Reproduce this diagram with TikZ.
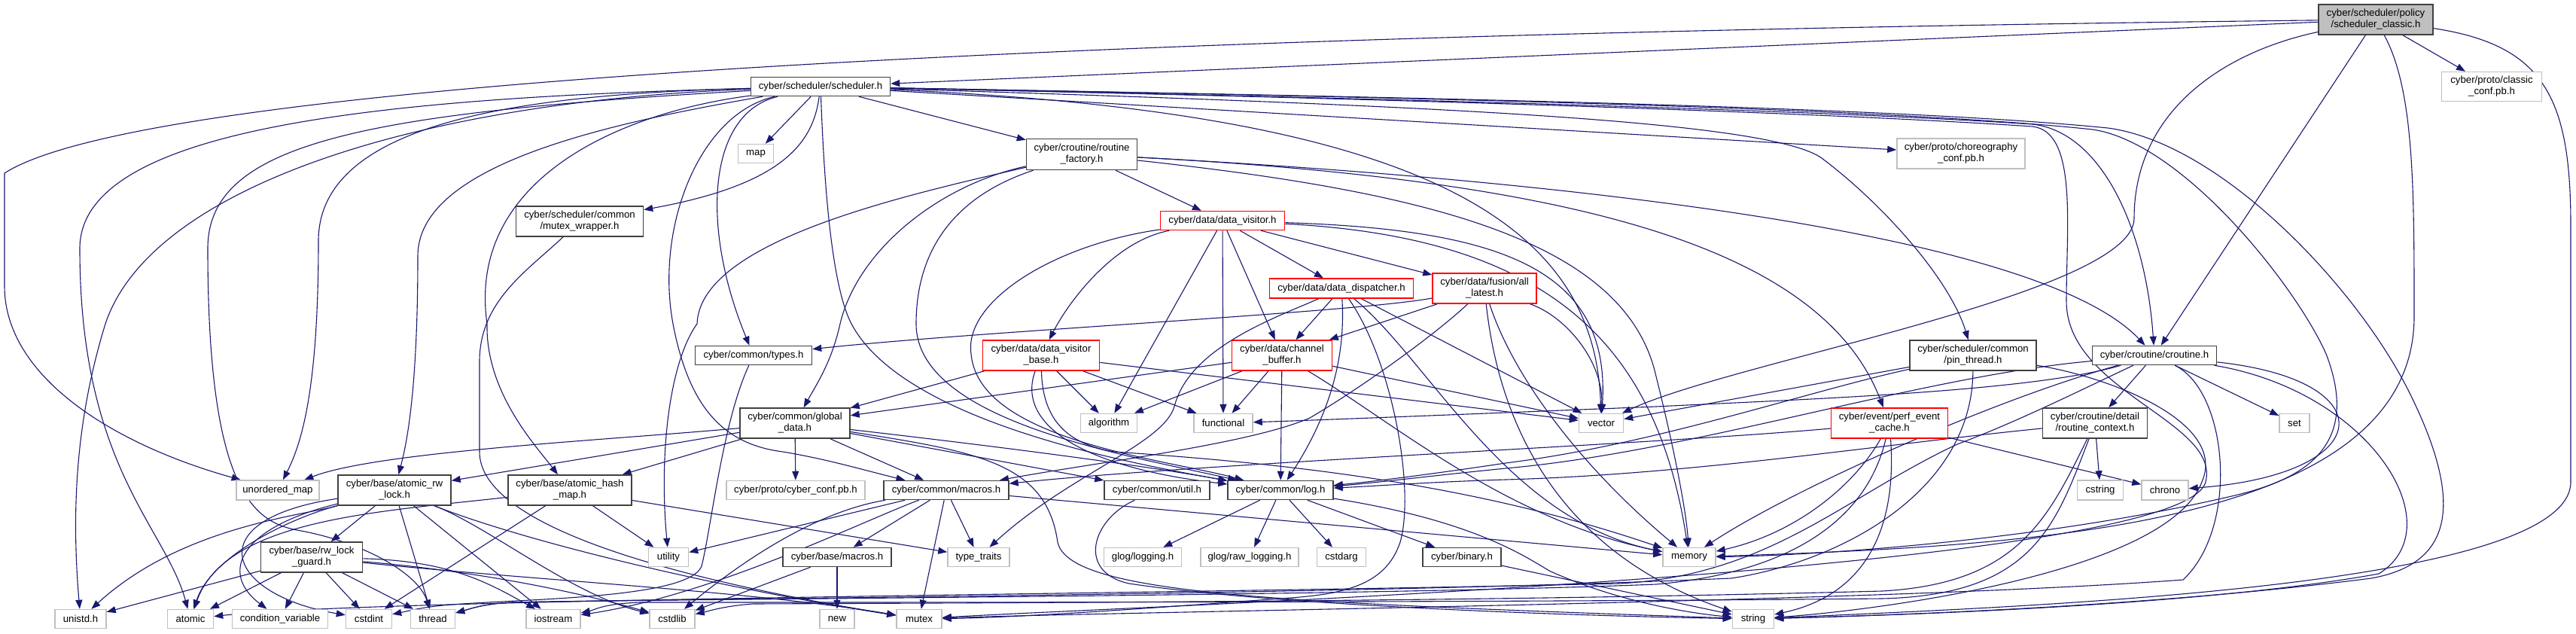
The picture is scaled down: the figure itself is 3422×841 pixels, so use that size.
\documentclass[tikz,border=0pt]{standalone}
\usepackage{fontspec}
\setmainfont{Liberation Sans}
\usetikzlibrary{arrows.meta}
\definecolor{edgec}{HTML}{191970}
\definecolor{darkb}{HTML}{404040}
\definecolor{lightb}{HTML}{BFBFBF}
\definecolor{redb}{HTML}{FF0000}
\pgfdeclarelayer{edges}
\pgfsetlayers{edges,main}
\begin{document}
\begin{tikzpicture}[x=1pt,y=-1pt,
  docn/.style={draw=darkb, fill=white, line width=1.5pt, inner sep=0pt, align=center, font=\fontsize{13.2}{15}\selectfont},
  extn/.style={docn, draw=lightb},
  trunc/.style={docn, draw=redb},
  rootn/.style={docn, fill=lightb},
  edg/.style={draw=edgec, line width=1.1pt, -{Triangle[length=12pt,width=9pt]}},
  sz/.style 2 args={minimum width=#1pt, minimum height=#2pt}]
\useasboundingbox (0,0) rectangle (3422,841);
% ---------------- nodes
\node[rootn, sz={152}{40}] (root) at (3156,26) {cyber/scheduler/policy\\/scheduler\_classic.h};
\node[extn, sz={133}{39}] (cconf) at (3310,115) {cyber/proto/classic\\\_conf.pb.h};
\node[docn, sz={185}{25}] (sched) at (1090,115) {cyber/scheduler/scheduler.h};
\node[extn, sz={47}{25}] (map) at (1004,204) {map};
\node[docn, sz={169}{40}] (mwrap) at (770,294) {cyber/scheduler/common\\/mutex\_wrapper.h};
\node[docn, sz={147}{41}] (rfac) at (1437,205) {cyber/croutine/routine\\\_factory.h};
\node[trunc, sz={165}{25}] (dvis) at (1624,293) {cyber/data/data\_visitor.h};
\node[trunc, sz={191}{26}] (ddisp) at (1782,383) {cyber/data/data\_dispatcher.h};
\node[trunc, sz={138}{40}] (alat) at (1972,383) {cyber/data/fusion/all\\\_latest.h};
\node[extn, sz={170}{40}] (choreo) at (2605,204) {cyber/proto/choreography\\\_conf.pb.h};
\node[docn, sz={155}{25}] (types) at (1001,472) {cyber/common/types.h};
\node[docn, sz={146}{40}] (gdata) at (1056,562) {cyber/common/global\\\_data.h};
\node[trunc, sz={155}{40}] (dvb) at (1383,472) {cyber/data/data\_visitor\\\_base.h};
\node[trunc, sz={133}{40}] (chbuf) at (1703,472) {cyber/data/channel\\\_buffer.h};
\node[extn, sz={75}{25}] (algo) at (1473,562) {algorithm};
\node[extn, sz={78}{25}] (func) at (1625,562) {functional};
\node[extn, sz={59}{25}] (vec) at (2127,562) {vector};
\node[docn, sz={168}{40}] (pin) at (2621,472) {cyber/scheduler/common\\/pin\_thread.h};
\node[docn, sz={165}{25}] (cor) at (2862,472) {cyber/croutine/croutine.h};
\node[extn, sz={40}{25}] (set) at (3048,562) {set};
\node[extn, sz={62}{26}] (chrono) at (2876,651) {chrono};
\node[extn, sz={61}{26}] (cstring) at (2790,651) {cstring};
\node[docn, sz={139}{40}] (rctx) at (2783,562) {cyber/croutine/detail\\/routine\_context.h};
\node[trunc, sz={155}{40}] (perf) at (2510,562) {cyber/event/perf\_event\\\_cache.h};
\node[extn, sz={110}{26}] (umap) at (369,651) {unordered\_map};
\node[docn, sz={150}{40}] (arw) at (524,651) {cyber/base/atomic\_rw\\\_lock.h};
\node[docn, sz={164}{40}] (ahm) at (757,651) {cyber/base/atomic\_hash\\\_map.h};
\node[extn, sz={184}{25}] (cyconf) at (1057,651) {cyber/proto/cyber\_conf.pb.h};
\node[docn, sz={166}{25}] (cmac) at (1257,651) {cyber/common/macros.h};
\node[docn, sz={140}{25}] (util) at (1537,651) {cyber/common/util.h};
\node[docn, sz={140}{25}] (log) at (1701,651) {cyber/common/log.h};
\node[docn, sz={135}{40}] (rwg) at (414,740) {cyber/base/rw\_lock\\\_guard.h};
\node[extn, sz={53}{25}] (utility) at (888,740) {utility};
\node[docn, sz={144}{25}] (bmac) at (1112,740) {cyber/base/macros.h};
\node[extn, sz={82}{25}] (ttraits) at (1300,740) {type\_traits};
\node[extn, sz={103}{25}] (glog) at (1518,740) {glog/logging.h};
\node[extn, sz={130}{25}] (rawlog) at (1660,740) {glog/raw\_logging.h};
\node[extn, sz={65}{25}] (cstdarg) at (1782,740) {cstdarg};
\node[docn, sz={104}{25}] (binary) at (1942,740) {cyber/binary.h};
\node[extn, sz={70}{25}] (memory) at (2244,740) {memory};
\node[extn, sz={68}{25}] (unistd) at (107,822) {unistd.h};
\node[extn, sz={61}{25}] (atomic) at (253,822) {atomic};
\node[extn, sz={127}{25}] (condvar) at (372,822) {condition\_variable};
\node[extn, sz={61}{25}] (cstdint) at (490,822) {cstdint};
\node[extn, sz={59}{25}] (thread) at (575,822) {thread};
\node[extn, sz={72}{25}] (iostream) at (735,822) {iostream};
\node[extn, sz={60}{25}] (cstdlib) at (893,822) {cstdlib};
\node[extn, sz={46}{25}] (cnew) at (1112,822) {new};
\node[extn, sz={60}{25}] (mutex) at (1221,822) {mutex};
\node[extn, sz={55}{25}] (string) at (2329,822) {string};
% ---------------- edges
\begin{pgfonlayer}{edges}
\fill[white] (0,0) rectangle (3422,841);
% root
\draw[edg] (root) -- (sched);
\draw[edg] (root) .. controls (1500,45) and (200,105) .. (6,230) -- (6,380) .. controls (6,500) and (150,590) .. (umap);
\draw[edg] (root) .. controls (2950,70) and (2835,150) .. (2835,290) .. controls (2835,390) and (2300,480) .. (vec);
\draw[edg] (root) -- (cor);
\draw[edg] (root) .. controls (3207,120) and (3207,250) .. (3207,420) .. controls (3207,700) and (2700,725) .. (memory);
\draw[edg] (root) .. controls (3380,60) and (3415,130) .. (3415,300) -- (3415,640) .. controls (3415,780) and (2700,805) .. (string);
\draw[edg] (root) -- (cconf);
% scheduler.h
\draw[edg] (sched) .. controls (700,125) and (423,160) .. (423,320) .. controls (423,520) and (400,590) .. (umap);
\draw[edg] (sched) .. controls (500,130) and (106,170) .. (106,330) .. controls (106,620) and (220,700) .. (atomic);
\draw[edg] (sched) .. controls (550,135) and (200,250) .. (140,430) .. controls (100,560) and (95,680) .. (unistd);
\draw[edg] (sched) .. controls (480,150) and (276,190) .. (276,330) .. controls (276,660) and (340,695) .. (400,705) .. controls (480,720) and (555,760) .. (thread);
\draw[edg] (sched) .. controls (800,165) and (555,220) .. (555,340) .. controls (555,520) and (540,590) .. (arw);
\draw[edg] (sched) .. controls (820,150) and (620,240) .. (647,430) .. controls (645,520) and (710,590) .. (ahm);
\draw[edg] (sched) -- (map);
\draw[edg] (sched) .. controls (1080,190) and (1040,245) .. (mwrap);
\draw[edg] (sched) .. controls (940,150) and (930,300) .. (types);
\draw[edg] (sched) .. controls (930,150) and (870,300) .. (894,430) .. controls (915,540) and (960,590) .. (1040,600) .. controls (1100,610) and (1150,625) .. (cmac);
\draw[edg] (sched) .. controls (1095,250) and (1105,380) .. (1131,430) .. controls (1200,560) and (1500,615) .. (log);
\draw[edg] (sched) -- (rfac);
\draw[edg] (sched) -- (choreo);
\draw[edg] (sched) .. controls (1900,140) and (2350,160) .. (2420,210) .. controls (2500,270) and (2590,370) .. (pin);
\draw[edg] (sched) .. controls (1800,130) and (2400,145) .. (2700,165) .. controls (2790,175) and (2850,300) .. (cor);
\draw[edg] (sched) .. controls (1800,128) and (2500,140) .. (2800,170) .. controls (2950,190) and (3130,380) .. (3200,520) .. controls (3280,680) and (3250,750) .. (3150,768) .. controls (2900,800) and (2600,815) .. (string);
\draw[edg] (sched) .. controls (1800,128) and (2500,142) .. (2780,172) .. controls (2900,190) and (3050,380) .. (3090,470) .. controls (3140,600) and (3050,640) .. (2960,660) .. controls (2700,720) and (2400,738) .. (memory);
\draw[edg] (sched) .. controls (1800,130) and (2400,148) .. (2700,168) .. controls (2760,175) and (2745,300) .. (2745,400) .. controls (2745,520) and (2950,560) .. (2930,640) .. controls (2900,760) and (1500,805) .. (mutex);
\draw[edg] (sched) .. controls (1900,150) and (2120,300) .. (vec);
% routine_factory.h
\draw[edg] (rfac) -- (dvis);
\draw[edg] (rfac) .. controls (1200,260) and (930,320) .. (926,430) .. controls (890,480) and (875,600) .. (utility);
\draw[edg] (rfac) .. controls (1250,245) and (1140,330) .. (1116,430) .. controls (1105,480) and (1085,510) .. (gdata);
\draw[edg] (rfac) .. controls (1270,260) and (1217,330) .. (1217,430) .. controls (1217,560) and (1500,605) .. (log);
\draw[edg] (rfac) .. controls (2000,235) and (2700,300) .. (cor);
\draw[edg] (rfac) .. controls (2100,240) and (2420,330) .. (perf);
\draw[edg] (rfac) .. controls (1900,255) and (2160,320) .. (2200,500) .. controls (2225,600) and (2240,680) .. (memory);
% data_visitor.h
\draw[edg] (dvis) .. controls (1400,325) and (1280,400) .. (1290,470) .. controls (1300,585) and (1550,610) .. (log);
\draw[edg] (dvis) .. controls (1480,320) and (1420,400) .. (dvb);
\draw[edg] (dvis) -- (algo);
\draw[edg] (dvis) -- (func);
\draw[edg] (dvis) -- (chbuf);
\draw[edg] (dvis) -- (ddisp);
\draw[edg] (dvis) -- (alat);
\draw[edg] (dvis) .. controls (2000,305) and (2140,360) .. (vec);
\draw[edg] (dvis) .. controls (2050,315) and (2200,450) .. (memory);
% data_dispatcher.h
\draw[edg] (ddisp) -- (chbuf);
\draw[edg] (ddisp) .. controls (1786,450) and (1780,530) .. (log);
\draw[edg] (ddisp) .. controls (1850,480) and (1880,650) .. (1860,720) .. controls (1840,780) and (1780,790) .. (1700,795) .. controls (1500,810) and (1350,820) .. (mutex);
\draw[edg] (ddisp) .. controls (1900,480) and (2000,690) .. (memory);
\draw[edg] (ddisp) -- (vec);
\draw[edg] (ddisp) .. controls (1700,420) and (1580,460) .. (1560,540) .. controls (1545,590) and (1420,630) .. (ttraits);
% all_latest.h
\draw[edg] (alat) .. controls (1800,415) and (1300,440) .. (types);
\draw[edg] (alat) -- (chbuf);
\draw[edg] (alat) .. controls (1900,450) and (1800,520) .. (1740,555) .. controls (1660,590) and (1450,615) .. (cmac);
\draw[edg] (alat) .. controls (1990,550) and (2060,730) .. (string);
\draw[edg] (alat) .. controls (2010,500) and (2100,620) .. (memory);
\draw[edg] (alat) .. controls (2080,420) and (2130,480) .. (vec);
% channel_buffer.h
\draw[edg] (chbuf) -- (gdata);
\draw[edg] (chbuf) -- (algo);
\draw[edg] (chbuf) -- (func);
\draw[edg] (chbuf) -- (log);
\draw[edg] (chbuf) .. controls (1850,560) and (2000,690) .. (memory);
\draw[edg] (chbuf) -- (vec);
% data_visitor_base.h
\draw[edg] (dvb) -- (gdata);
\draw[edg] (dvb) -- (algo);
\draw[edg] (dvb) -- (func);
\draw[edg] (dvb) -- (vec);
\draw[edg] (dvb) .. controls (1350,560) and (1430,620) .. (log);
\draw[edg] (dvb) .. controls (1385,560) and (1420,590) .. (1480,600) .. controls (1700,615) and (1950,640) .. (memory);
% types.h
\draw[edg] (types) .. controls (960,560) and (945,700) .. (932,752) .. controls (915,795) and (700,795) .. (600,803) .. controls (560,806) and (540,812) .. (cstdint);
% global_data.h
\draw[edg] (gdata) .. controls (800,585) and (500,600) .. (umap);
\draw[edg] (gdata) -- (arw);
\draw[edg] (gdata) -- (ahm);
\draw[edg] (gdata) -- (cyconf);
\draw[edg] (gdata) -- (cmac);
\draw[edg] (gdata) -- (util);
\draw[edg] (gdata) .. controls (1300,590) and (1500,615) .. (log);
\draw[edg] (gdata) .. controls (1300,600) and (1390,615) .. (1405,720) .. controls (1420,790) and (1700,800) .. (string);
% common/macros.h
\draw[edg] (cmac) -- (bmac);
\draw[edg] (cmac) -- (ttraits);
\draw[edg] (cmac) -- (mutex);
\draw[edg] (cmac) -- (utility);
\draw[edg] (cmac) .. controls (1080,680) and (980,750) .. (cstdlib);
\draw[edg] (cmac) .. controls (1150,690) and (950,790) .. (iostream);
\draw[edg] (cmac) -- (memory);
% base/macros.h
\draw[edg] (bmac) -- (cstdlib);
\draw[edg] (bmac) -- (cnew);
% util.h
\draw[edg] (util) .. controls (1450,690) and (1430,760) .. (1500,775) .. controls (1700,805) and (2100,818) .. (string);
% log.h
\draw[edg] (log) -- (glog);
\draw[edg] (log) -- (rawlog);
\draw[edg] (log) -- (cstdarg);
\draw[edg] (log) -- (binary);
\draw[edg] (log) .. controls (1950,690) and (2020,735) .. (2058,758) .. controls (2150,800) and (2250,815) .. (string);
\draw[edg] (binary) -- (string);
% atomic_rw_lock.h
\draw[edg] (arw) -- (rwg);
\draw[edg] (arw) -- (thread);
\draw[edg] (arw) .. controls (400,685) and (240,700) .. (unistd);
\draw[edg] (arw) .. controls (380,690) and (280,740) .. (atomic);
\draw[edg] (arw) .. controls (320,700) and (290,760) .. (condvar);
\draw[edg] (arw) .. controls (260,690) and (300,790) .. (cstdint);
\draw[edg] (arw) -- (iostream);
\draw[edg] (arw) .. controls (650,700) and (760,790) .. (cstdlib);
\draw[edg] (arw) .. controls (700,720) and (950,780) .. (mutex);
% rw_lock_guard.h
\draw[edg] (rwg) -- (unistd);
\draw[edg] (rwg) -- (atomic);
\draw[edg] (rwg) -- (condvar);
\draw[edg] (rwg) -- (cstdint);
\draw[edg] (rwg) -- (thread);
\draw[edg] (rwg) .. controls (600,745) and (650,775) .. (iostream);
\draw[edg] (rwg) .. controls (650,760) and (780,790) .. (cstdlib);
\draw[edg] (rwg) .. controls (700,770) and (1000,785) .. (mutex);
% atomic_hash_map.h
\draw[edg] (ahm) .. controls (500,680) and (300,690) .. (atomic);
\draw[edg] (ahm) -- (cstdint);
\draw[edg] (ahm) -- (utility);
\draw[edg] (ahm) -- (ttraits);
% mutex_wrapper.h
\draw[edg] (mwrap) .. controls (700,360) and (637,400) .. (637,480) -- (637,600) .. controls (637,700) and (900,770) .. (mutex);
% pin_thread.h
\draw[edg] (pin) .. controls (2400,520) and (2200,590) .. (2000,615) .. controls (1900,630) and (1820,640) .. (log);
\draw[edg] (pin) .. controls (2620,650) and (2450,745) .. (2300,768) .. controls (1800,790) and (900,795) .. (680,800) .. controls (640,802) and (620,810) .. (thread);
\draw[edg] (pin) .. controls (2800,500) and (2960,560) .. (2925,640) .. controls (2880,760) and (2500,810) .. (string);
\draw[edg] (pin) -- (vec);
% croutine.h
\draw[edg] (cor) .. controls (2700,520) and (2400,530) .. (2200,540) .. controls (1950,550) and (1750,558) .. (func);
\draw[edg] (cor) .. controls (2550,500) and (2250,600) .. (2000,622) .. controls (1900,632) and (1820,642) .. (log);
\draw[edg] (cor) .. controls (2650,530) and (2380,650) .. (memory);
\draw[edg] (cor) .. controls (2760,520) and (2680,560) .. (2600,590) .. controls (2450,660) and (2350,765) .. (2150,775) .. controls (1500,790) and (500,795) .. (atomic);
\draw[edg] (cor) -- (rctx);
\draw[edg] (cor) .. controls (3170,505) and (3160,630) .. (chrono);
\draw[edg] (cor) -- (set);
\draw[edg] (cor) .. controls (2960,520) and (2975,700) .. (2900,770) .. controls (2500,800) and (1500,812) .. (mutex);
\draw[edg] (cor) .. controls (3150,520) and (3260,700) .. (3160,762) .. controls (2950,800) and (2600,815) .. (string);
% routine_context.h
\draw[edg] (rctx) .. controls (2500,590) and (2250,630) .. (2000,637) .. controls (1900,640) and (1820,646) .. (log);
\draw[edg] (rctx) -- (cstring);
\draw[edg] (rctx) .. controls (2720,690) and (2680,775) .. (2500,785) .. controls (2000,798) and (1500,800) .. (1000,802) .. controls (960,805) and (940,812) .. (cstdlib);
\draw[edg] (rctx) .. controls (2730,700) and (2700,790) .. (2500,795) .. controls (2000,800) and (1300,800) .. (850,800) .. controls (800,802) and (790,810) .. (iostream);
% perf_event_cache.h
\draw[edg] (perf) .. controls (2200,590) and (1600,615) .. (cmac);
\draw[edg] (perf) -- (chrono);
\draw[edg] (perf) .. controls (2520,700) and (2480,790) .. (string);
\draw[edg] (perf) .. controls (2460,650) and (2380,710) .. (memory);
\draw[edg] (perf) .. controls (2480,690) and (2380,760) .. (2200,776) .. controls (1800,792) and (900,795) .. (680,800) .. controls (640,802) and (620,810) .. (thread);
\end{pgfonlayer}
\end{tikzpicture}
\end{document}
